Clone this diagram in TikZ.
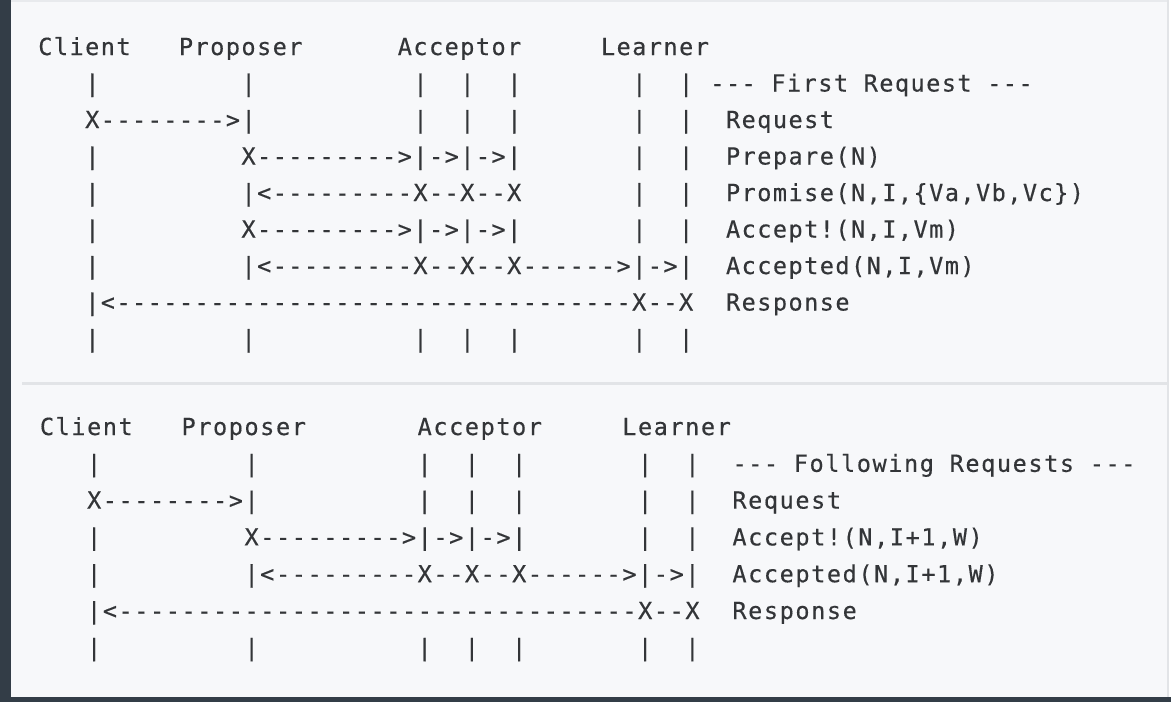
\documentclass[tikz,border=0pt]{standalone}
\usepackage{fontspec}
% Monospaced text, letter-spaced so each character cell has the column pitch
\newfontfamily\monoA[LetterSpace=6.3,Ligatures=TeXOff,FakeBold=0.4]{DejaVu Sans Mono}
\newfontfamily\monoB[LetterSpace=6.8,Ligatures=TeXOff,FakeBold=0.4]{DejaVu Sans Mono}
\definecolor{paper}{HTML}{F7F8FA}
\definecolor{frame}{HTML}{333D47}
\definecolor{rule}{HTML}{E2E4E7}
\definecolor{ink}{HTML}{333538}

% column origin, pitch and row baselines of the current block
\def\xo{0}\def\pitch{1}\def\yo{0}\def\dy{1}
% \place{row}{column}{name}{text}
\newcommand\place[4]{%
  \node[mono, anchor=base west] (#3) at ({\xo+#2*\pitch},{\yo+#1*\dy}) {#4};}
% the vertical lifelines of one row: client, proposer, three acceptors, two learners
\newcommand\lifelines[2]{%
  \foreach \c in {#2} {\place{#1}{\c}{#1-\c}{|}}}

\begin{document}
\begin{tikzpicture}[x=1pt, y=-1pt,
  mono/.style={inner sep=0pt, outer sep=0pt, text=ink, font=\fontsize{23.5}{28}\selectfont}]
\useasboundingbox (0,0) rectangle (1171,702);
% screen frame
\fill[paper] (0,0) rectangle (1171,702);
\fill[frame] (0,0) rectangle (11,702);
\fill[frame] (0,697) rectangle (1171,702);
\fill[rule!70!paper] (11,0) rectangle (1168,1.5);
\fill[rule] (1167,0) rectangle (1169,697);
\fill[white] (1169,0) rectangle (1171,697);
% divider between the two scenarios
\fill[rule] (22,382) rectangle (1167,384.5);

% ---------------- first request ----------------
\begin{scope}[mono/.append style={font=\monoA\fontsize{23.5}{28}\selectfont}]
\def\xo{38.3}\def\pitch{15.63}\def\yo{55}\def\dy{36.5}
\place{0}{0}{a-client}{Client}
\place{0}{9}{a-proposer}{Proposer}
\place{0}{23}{a-acceptor}{Acceptor}
\place{0}{36}{a-learner}{Learner}
\lifelines{1}{3,13,24,27,30,38,41}
\place{1}{43}{a-title}{-{}-{}-~First~Request~-{}-{}-}
\place{2}{3}{a-req}{X-{}-{}-{}-{}-{}-{}-{}->|}
\lifelines{2}{24,27,30,38,41}
\place{2}{44}{a-req-l}{Request}
\lifelines{3}{3}
\place{3}{13}{a-prep}{X-{}-{}-{}-{}-{}-{}-{}-{}->|->|->|}
\lifelines{3}{38,41}
\place{3}{44}{a-prep-l}{Prepare(N)}
\lifelines{4}{3}
\place{4}{13}{a-prom}{|<-{}-{}-{}-{}-{}-{}-{}-{}-X-{}-X-{}-X}
\lifelines{4}{38,41}
\place{4}{44}{a-prom-l}{Promise(N,I,\{Va,Vb,Vc\})}
\lifelines{5}{3}
\place{5}{13}{a-acc}{X-{}-{}-{}-{}-{}-{}-{}-{}->|->|->|}
\lifelines{5}{38,41}
\place{5}{44}{a-acc-l}{Accept!(N,I,Vm)}
\lifelines{6}{3}
\place{6}{13}{a-accd}{|<-{}-{}-{}-{}-{}-{}-{}-{}-X-{}-X-{}-X-{}-{}-{}-{}-{}->|->|}
\place{6}{44}{a-accd-l}{Accepted(N,I,Vm)}
\place{7}{3}{a-resp}{|<-{}-{}-{}-{}-{}-{}-{}-{}-{}-{}-{}-{}-{}-{}-{}-{}-{}-{}-{}-{}-{}-{}-{}-{}-{}-{}-{}-{}-{}-{}-{}-{}-X-{}-X}
\place{7}{44}{a-resp-l}{Response}
\lifelines{8}{3,13,24,27,30,38,41}
\end{scope}

% ---------------- following requests ----------------
\begin{scope}[mono/.append style={font=\monoB\fontsize{23.5}{28}\selectfont}]
\def\xo{39.9}\def\pitch{15.74}\def\yo{435}\def\dy{36.8}
\place{0}{0}{b-client}{Client}
\place{0}{9}{b-proposer}{Proposer}
\place{0}{24}{b-acceptor}{Acceptor}
\place{0}{37}{b-learner}{Learner}
\lifelines{1}{3,13,24,27,30,38,41}
\place{1}{44}{b-title}{-{}-{}-~Following~Requests~-{}-{}-}
\place{2}{3}{b-req}{X-{}-{}-{}-{}-{}-{}-{}->|}
\lifelines{2}{24,27,30,38,41}
\place{2}{44}{b-req-l}{Request}
\lifelines{3}{3}
\place{3}{13}{b-acc}{X-{}-{}-{}-{}-{}-{}-{}-{}->|->|->|}
\lifelines{3}{38,41}
\place{3}{44}{b-acc-l}{Accept!(N,I+1,W)}
\lifelines{4}{3}
\place{4}{13}{b-accd}{|<-{}-{}-{}-{}-{}-{}-{}-{}-X-{}-X-{}-X-{}-{}-{}-{}-{}->|->|}
\place{4}{44}{b-accd-l}{Accepted(N,I+1,W)}
\place{5}{3}{b-resp}{|<-{}-{}-{}-{}-{}-{}-{}-{}-{}-{}-{}-{}-{}-{}-{}-{}-{}-{}-{}-{}-{}-{}-{}-{}-{}-{}-{}-{}-{}-{}-{}-{}-X-{}-X}
\place{5}{44}{b-resp-l}{Response}
\lifelines{6}{3,13,24,27,30,38,41}
\end{scope}
\end{tikzpicture}
\end{document}
